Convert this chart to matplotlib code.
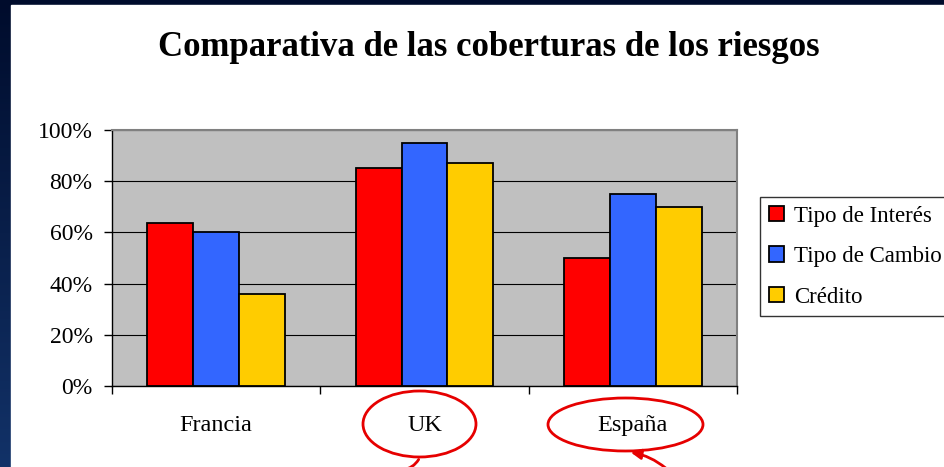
import numpy as np
import matplotlib
matplotlib.use("Agg")
import matplotlib.pyplot as plt
from matplotlib.patches import Ellipse, Rectangle, FancyArrowPatch
from matplotlib.colors import LinearSegmentedColormap

categories = ["Francia", "UK", "España"]
series_names = ["Tipo de Interés", "Tipo de Cambio", "Crédito"]
tipo_interes = [0.635, 0.85, 0.50]
tipo_cambio = [0.60, 0.95, 0.75]
credito = [0.36, 0.87, 0.70]
colors = ["#FF0000", "#3366FF", "#FFCC00"]
yticks = [0, 0.2, 0.4, 0.6, 0.8, 1.0]
ytick_labels = ["0%", "20%", "40%", "60%", "80%", "100%"]

W, H = 945, 467
plt.rcParams['font.family'] = ['Liberation Serif', 'DejaVu Serif']

fig = plt.figure(figsize=(W / 100, H / 100), dpi=100)

# slide background (dark blue gradient) with white chart area
bg = fig.add_axes([0, 0, 1, 1])
grad = np.linspace(0, 1, 256).reshape(-1, 1)
cmap = LinearSegmentedColormap.from_list("slide", ["#000c2c", "#123268"])
bg.imshow(grad, aspect='auto', cmap=cmap, extent=[0, 1, 0, 1], origin='upper')
bg.add_patch(Rectangle((11 / W, 0), 1, 1 - 5 / H, color="white", transform=bg.transAxes))
bg.set_xlim(0, 1)
bg.set_ylim(0, 1)
bg.axis('off')

def px(x, y):
    return x / W, 1 - y / H

l, t = px(112, 130)
r, b = px(737, 386)
ax = fig.add_axes([l, b, r - l, t - b])
ax.set_facecolor("#C0C0C0")

x = np.arange(len(categories))
w = 0.22
for i, (vals, name) in enumerate(zip([tipo_interes, tipo_cambio, credito], series_names)):
    ax.bar(x + (i - 1) * w, vals, w, color=colors[i], edgecolor="black",
           linewidth=1.3, label=name, zorder=3)

ax.set_xlim(-0.5, 2.5)
ax.set_ylim(0, 1)
ax.set_yticks(yticks)
ax.set_yticklabels(ytick_labels, fontsize=17)
ax.grid(axis='y', color='black', linewidth=0.8, zorder=1)
ax.set_axisbelow(True)
ax.set_xticks(x)
ax.set_xticklabels(categories, fontsize=17.5)
ax.set_xticks([-0.5, 0.5, 1.5, 2.5], minor=True)
ax.tick_params(axis='x', which='major', length=0, pad=21)
ax.tick_params(axis='x', which='minor', length=6, width=1, color='black', direction='out')
ax.tick_params(axis='y', length=6, width=1, pad=8, direction='out')
for s in ['top', 'right']:
    ax.spines[s].set_color('#808080')
    ax.spines[s].set_linewidth(1.5)
for s in ['left', 'bottom']:
    ax.spines[s].set_color('black')
    ax.spines[s].set_linewidth(1)

fig.text(px(489, 0)[0], px(0, 48)[1], "Comparativa de las coberturas de los riesgos",
         ha='center', va='center', fontsize=25, fontweight='bold')

# legend frame runs past the right edge, as in the slide
leg = fig.legend(loc='upper left', bbox_to_anchor=(760 / W, 0, 300 / W, 1 - 197 / H),
                 mode='expand', fontsize=16.5,
                 frameon=True, fancybox=False, edgecolor='black', borderaxespad=0,
                 handlelength=0.65, handleheight=0.65, handletextpad=0.45,
                 labelspacing=0.85, borderpad=0.38)
leg.get_frame().set_linewidth(1)

# red callout ellipses under UK and España
ell_uk = Ellipse(px(419.5, 424), 113 / W, 66 / H, transform=fig.transFigure,
                 fill=False, edgecolor='#E60000', linewidth=2)
ell_es = Ellipse(px(625.5, 424.5), 155 / W, 53 / H, transform=fig.transFigure,
                 fill=False, edgecolor='#E60000', linewidth=2)
fig.add_artist(ell_uk)
fig.add_artist(ell_es)
tail_uk = FancyArrowPatch(px(420, 457), px(400, 470), transform=fig.transFigure,
                          arrowstyle='-', connectionstyle='arc3,rad=-0.3',
                          color='#E60000', linewidth=2)
arrow_es = FancyArrowPatch(px(668, 470), px(628, 452), transform=fig.transFigure,
                           arrowstyle='-|>,head_length=6,head_width=3',
                           connectionstyle='arc3,rad=0.15', color='#E60000',
                           linewidth=2, mutation_scale=1)
fig.add_artist(tail_uk)
fig.add_artist(arrow_es)

fig.savefig("out.png", dpi=100)
